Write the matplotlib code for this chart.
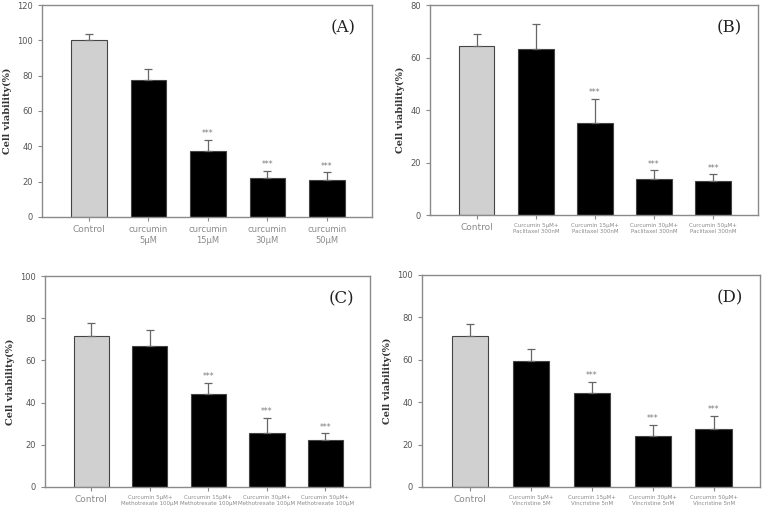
import matplotlib
matplotlib.use("Agg")
import matplotlib.pyplot as plt

# Data
labels_a = ["Control", "curcumin\n5\u03bcM", "curcumin\n15\u03bcM", "curcumin\n30\u03bcM", "curcumin\n50\u03bcM"]
labels_b = ["Control", "Curcumin 5\u03bcM+\nPaclitaxel 300nM", "Curcumin 15\u03bcM+\nPaclitaxel 300nM",
            "Curcumin 30\u03bcM+\nPaclitaxel 300nM", "Curcumin 50\u03bcM+\nPaclitaxel 300nM"]
labels_c = ["Control", "Curcumin 5\u03bcM+\nMethotrexate 100\u03bcM", "Curcumin 15\u03bcM+\nMethotrexate 100\u03bcM",
            "Curcumin 30\u03bcM+\nMethotrexate 100\u03bcM", "Curcumin 50\u03bcM+\nMethotrexate 100\u03bcM"]
labels_d = ["Control", "Curcumin 5\u03bcM+\nVincristine 5M", "Curcumin 15\u03bcM+\nVincristine 5nM",
            "Curcumin 30\u03bcM+\nVincristine 5nM", "Curcumin 50\u03bcM+\nVincristine 5nM"]

values_a = [100, 77.5, 37.5, 22, 21.2]
errors_a = [3.8, 6, 6, 4.2, 4]
values_b = [64.5, 63.2, 35.2, 13.8, 12.8]
errors_b = [4.5, 9.5, 9, 3.2, 2.7]
values_c = [71.8, 66.8, 44.2, 25.8, 22.2]
errors_c = [5.8, 7.5, 5.3, 7, 3.3]
values_d = [71, 59.3, 44.3, 24, 27.5]
errors_d = [5.7, 5.6, 5.3, 5.3, 6]

stars = ["", "", "***", "***", "***"]

ylims = [120, 80, 100, 100]
panel_names = ["(A)", "(B)", "(C)", "(D)"]

# axes rectangles in pixel units (left, bottom from top, right, top)
W, H = 763, 514
boxes = [(42, 217, 372, 5), (430, 215, 758, 5), (45, 487, 370, 276), (422, 487, 760, 275)]

fig = plt.figure(figsize=(W / 100, H / 100), dpi=100)

panels = [
    (labels_a, values_a, errors_a),
    (labels_b, values_b, errors_b),
    (labels_c, values_c, errors_c),
    (labels_d, values_d, errors_d),
]

spine_col = "#8a8a8a"
text_col = "#555555"

for i, (labels, vals, errs) in enumerate(panels):
    l, b, r, t = boxes[i]
    ax = fig.add_axes([l / W, 1 - b / H, (r - l) / W, (b - t) / H])
    x = list(range(len(vals)))
    colors = ["#d0d0d0"] + ["black"] * (len(vals) - 1)
    ax.bar(x, vals, width=0.6, color=colors, edgecolor="#444444", linewidth=0.8, zorder=2)
    ax.errorbar(x, vals, yerr=[[0] * len(errs), errs], fmt="none", ecolor="#666666",
                elinewidth=0.9, capsize=3, capthick=0.9, zorder=3)
    for xi, v, e, s in zip(x, vals, errs, stars):
        if s:
            ax.text(xi, v + e + ylims[i] * 0.008, s, ha="center", va="bottom", fontsize=5.5, color="#777777")
    ax.set_xlim(-0.79, 4.76)
    ax.set_ylim(0, ylims[i])
    ax.set_yticks(range(0, ylims[i] + 1, 20))
    ax.set_xticks(x)
    ax.set_xticklabels(labels)
    for j, lab in enumerate(ax.get_xticklabels()):
        if j == 0:
            lab.set_fontsize(6.5)
        elif i == 0:
            lab.set_fontsize(6)
        else:
            lab.set_fontsize(4)
        lab.set_color(text_col)
    ax.tick_params(axis="y", labelsize=6, colors=spine_col, labelcolor=text_col, length=3, width=0.8)
    ax.tick_params(axis="x", colors=spine_col, length=3, width=0.8, pad=3)
    for sp in ax.spines.values():
        sp.set_color(spine_col)
        sp.set_linewidth(1.0)
    ax.set_ylabel("Cell viability(%)", fontsize=7, fontweight="bold", family="serif", color="#333333")
    ax.text(0.95, 0.89, panel_names[i], transform=ax.transAxes, ha="right", va="center",
            fontsize=12, family="serif", color="#222222")

fig.savefig("out.png", dpi=100)
